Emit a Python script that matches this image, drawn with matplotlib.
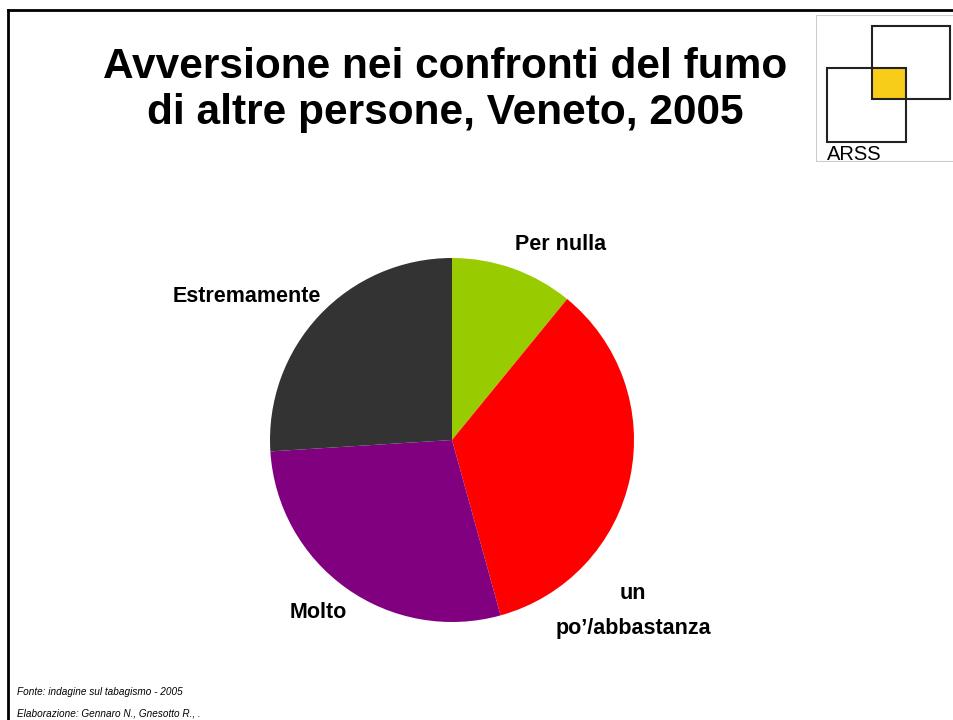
import matplotlib
matplotlib.use("Agg")
import matplotlib.pyplot as plt
from matplotlib.patches import Rectangle

# quote per livello di avversione (%)
categorie = ["Per nulla", "un\npo\u2019/abbastanza", "Molto", "Estremamente"]
valori = [10.9, 34.8, 28.3, 26.0]
colori = ["#99CC00", "#FF0000", "#800080", "#333333"]

titolo = "Avversione nei confronti del fumo\ndi altre persone, Veneto, 2005"
fonte = "Fonte: indagine sul tabagismo - 2005"
elaborazione = "Elaborazione: Gennaro N., Gnesotto R., ."

W, H = 954, 720
fig = plt.figure(figsize=(W / 100, H / 100), dpi=100)
sans = ["Liberation Sans", "DejaVu Sans"]

def px(x, y):
    # pixel (dall'alto a sinistra) -> coordinate figura
    return x / W, 1 - y / H

# cornice della slide
fig.add_artist(plt.Line2D([8 / W, 1], [1 - 10 / H] * 2, color="black", lw=2))
fig.add_artist(plt.Line2D([8 / W] * 2, [0, 1 - 10 / H], color="black", lw=2))

# titolo
fig.text(*px(445, 90), titolo, ha="center", va="center", fontsize=30.5,
         fontweight="bold", family=sans, linespacing=1.18)

# logo ARSS
logo = fig.add_axes([816 / W, 1 - 162 / H, 138 / W, 147 / H])
logo.set_xlim(816, 954)
logo.set_ylim(162, 15)
logo.axis("off")
logo.add_patch(Rectangle((816, 15), 140, 147, fill=False, ec="#cccccc", lw=1.5))
logo.add_patch(Rectangle((872, 68), 34, 31, color="#F7CD1A", lw=0))
logo.add_patch(Rectangle((872, 26), 78, 73, fill=False, ec="#222222", lw=1.5))
logo.add_patch(Rectangle((827, 68), 79, 74, fill=False, ec="#222222", lw=1.5))
logo.text(827, 160, "ARSS", fontsize=14.5, family=sans, va="baseline", ha="left")

# torta
cx, cy, r = 452, 440, 182
ax = fig.add_axes([(cx - r) / W, 1 - (cy + r) / H, 2 * r / W, 2 * r / H])
ax.pie(valori, colors=colori, startangle=90, counterclock=False,
       wedgeprops=dict(linewidth=0), radius=1)
ax.set_xlim(-1, 1)
ax.set_ylim(-1, 1)
ax.set_aspect("equal")
ax.axis("off")

# etichette delle fette
pos_etichette = [(561, 245), (633, 611), (318, 612), (247, 296)]
for testo, (x, y) in zip(categorie, pos_etichette):
    fig.text(*px(x, y), testo, ha="center", va="center", fontsize=15.5,
             fontweight="bold", linespacing=1.85, family=sans)

# note
fig.text(*px(17, 692), fonte, fontsize=7.2, style="italic", va="center", family=sans)
fig.text(*px(17, 713), elaborazione, fontsize=7.2, style="italic", va="center", family=sans)

fig.savefig("out.png", dpi=100)
